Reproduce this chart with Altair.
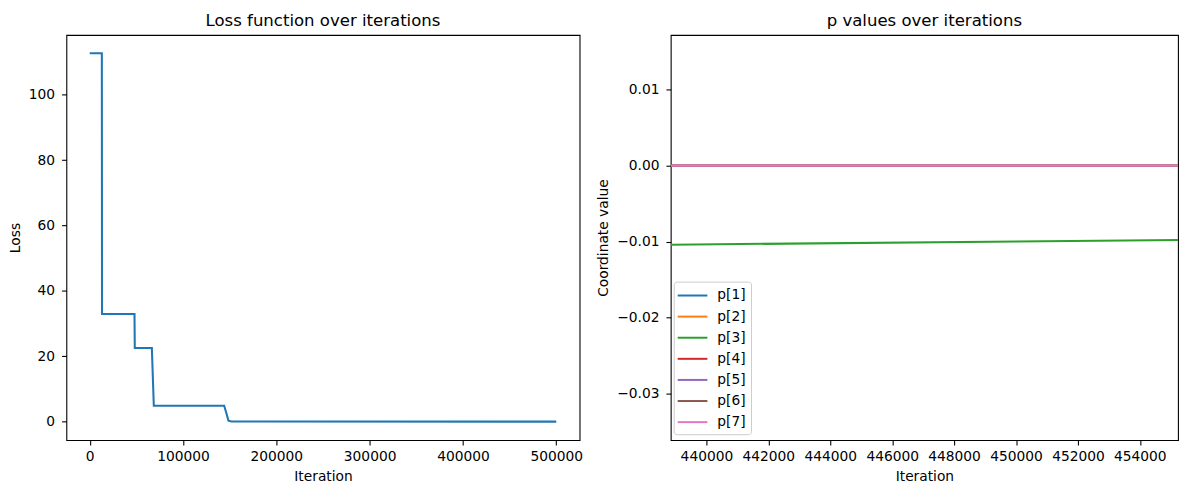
import altair as alt
import pandas as pd

# ---- Loss panel data ----
loss_iter = [0, 13000, 13200, 48000, 48300, 66600, 68700, 144100, 146000, 148700, 152000, 500000]
loss_vals = [112.7, 112.7, 32.9, 32.9, 22.5, 22.5, 4.85, 4.85, 3.0, 0.3, 0.05, 0.0]
loss_xticks = [0, 100000, 200000, 300000, 400000, 500000]
loss_yticks = [0, 20, 40, 60, 80, 100]

# ---- p values panel data ----
series = ["p[1]", "p[2]", "p[3]", "p[4]", "p[5]", "p[6]", "p[7]"]
colors = ["#1f77b4", "#ff7f0e", "#2ca02c", "#d62728", "#9467bd", "#8c564b", "#e377c2"]
p_iter = [438850, 455300]
p_vals = {
    "p[1]": [0.0, 0.0],
    "p[2]": [0.0, 0.0],
    "p[3]": [-0.01039, -0.00977],
    "p[4]": [0.0, 0.0],
    "p[5]": [0.0, 0.0],
    "p[6]": [0.0, 0.0],
    "p[7]": [0.0, 0.0],
}
p_xticks = [440000, 442000, 444000, 446000, 448000, 450000, 452000, 454000]
p_yticks = [-0.03, -0.02, -0.01, 0.0, 0.01]

FONT = "DejaVu Sans"

loss_df = pd.DataFrame({"Iteration": loss_iter, "Loss": loss_vals})
rows = []
for s in series:
    for it, v in zip(p_iter, p_vals[s]):
        rows.append({"Iteration": it, "value": v, "series": s})
p_df = pd.DataFrame(rows)

left = alt.Chart(loss_df).mark_line(color="#1f77b4", strokeWidth=2.08).encode(
    x=alt.X("Iteration:Q", title="Iteration",
            scale=alt.Scale(domain=[-25000, 525000], nice=False, zero=False),
            axis=alt.Axis(values=loss_xticks, format="d")),
    y=alt.Y("Loss:Q", title="Loss",
            scale=alt.Scale(domain=[-5.67, 118.3], nice=False, zero=False),
            axis=alt.Axis(values=loss_yticks, format="d")),
).properties(width=518, height=409, title="Loss function over iterations")

right = alt.Chart(p_df).mark_line(strokeWidth=2.08, clip=True).encode(
    x=alt.X("Iteration:Q", title="Iteration",
            scale=alt.Scale(domain=[438848, 455232], nice=False, zero=False),
            axis=alt.Axis(values=p_xticks, format="d")),
    y=alt.Y("value:Q", title="Coordinate value",
            scale=alt.Scale(domain=[-0.0361, 0.0172], nice=False, zero=False),
            axis=alt.Axis(values=p_yticks, format=".2f")),
    color=alt.Color("series:N", scale=alt.Scale(domain=series, range=colors),
                    legend=alt.Legend(
                        orient="none", legendX=3, legendY=249, title=None,
                        symbolType="M-1.25,0H2.5", symbolSize=256,
                        symbolStrokeWidth=2, labelFontSize=13.9, labelFont=FONT,
                        labelColor="#000000", padding=5, rowPadding=5.3,
                        labelOffset=21,
                        strokeColor="#cccccc", fillColor="rgba(255,255,255,0.8)",
                        cornerRadius=3)),
    order=alt.Order("series:N"),
).properties(width=512, height=409, title="p values over iterations")

chart = alt.hconcat(left, right, spacing=13).resolve_legend(
    color="independent"
).resolve_scale(color="independent").properties(
    padding={"left": 8, "top": 10, "right": 0, "bottom": 0}
).configure_view(
    stroke="#000000", strokeWidth=1.1
).configure_axis(
    domain=False, grid=False, tickColor="#000000", tickWidth=1.1, tickSize=4.86,
    labelPadding=4.86, labelFont=FONT, labelFontSize=13.9, labelColor="#000000",
    titleFont=FONT, titleFontSize=13.9, titleColor="#000000", titleFontWeight="normal",
).configure_axisY(
    titlePadding=6, labelPadding=7
).configure_axisX(
    titlePadding=6
).configure_title(
    font=FONT, fontSize=16.7, fontWeight="normal", color="#000000",
    anchor="middle", offset=5, baseline="alphabetic"
)

chart.save("out.html", embed_options={"renderer": "svg", "actions": False})
